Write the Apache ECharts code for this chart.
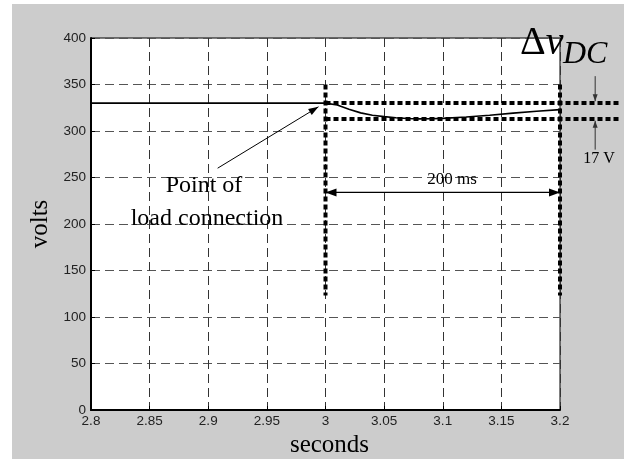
<!DOCTYPE html>
<html><head><meta charset="utf-8">
<script src="https://cdn.jsdelivr.net/npm/echarts@6/dist/echarts.min.js"></script>
<style>html,body{margin:0;padding:0;background:#fff}#c{width:624px;height:459px}</style>
</head><body><div id="c"></div>
<script>
// Measured DC-link voltage
const timeS  = [2.8, 2.9, 3.0, 3.01, 3.02, 3.03, 3.04, 3.05, 3.06, 3.07, 3.08, 3.09, 3.10, 3.12, 3.14, 3.16, 3.18, 3.2];
const voltsV = [330, 330, 330, 328, 323.5, 319.5, 317, 315.5, 314.2, 313.4, 313, 313.1, 313.6, 315, 317, 319.2, 321.3, 323];

// Axis ticks
const xMin = 2.8, xMax = 3.2, xStep = 0.05;
const yMin = 0, yMax = 400, yStep = 50;

// Annotation segments [t1, v1, t2, v2]
const dottedSegments = [
  [3.0, 330, 3.25, 330],   // upper band level
  [3.0, 313, 3.25, 313],   // lower band level (330 - 17 V)
  [3.0, 350, 3.0, 123],    // load connection instant
  [3.2, 350, 3.2, 123]     // end of 200 ms window
];
const loadArrows  = [[2.908, 260, 2.994, 326]];      // Point of load connection
const spanArrows  = [[3.0, 234, 3.2, 234]];          // 200 ms (double headed)
const deltaArrows = [[3.23, 359, 3.23, 332],         // ΔvDC upper
                     [3.23, 280, 3.23, 311]];        // ΔvDC lower

const chart = echarts.init(document.getElementById('c'), null, {renderer: 'canvas'});

function dottedSeries(rows) {
  return {type: 'custom', clip: false, silent: true, animation: false, z: 4,
    data: rows,
    renderItem: function (params, api) {
      const p0 = api.coord([api.value(0), api.value(1)]);
      const p1 = api.coord([api.value(2), api.value(3)]);
      return {type: 'line', shape: {x1: p0[0], y1: p0[1], x2: p1[0], y2: p1[1]},
              style: {stroke: '#000', lineWidth: 4, lineDash: [5, 3], fill: null}};
    }};
}
function head(tip, from, len, half, color) {
  const dx = tip[0] - from[0], dy = tip[1] - from[1];
  const d = Math.hypot(dx, dy) || 1, ux = dx / d, uy = dy / d;
  const bx = tip[0] - ux * len, by = tip[1] - uy * len;
  return {type: 'polygon', shape: {points: [[tip[0], tip[1]], [bx - uy * half, by + ux * half], [bx + uy * half, by - ux * half]]},
          style: {fill: color}};
}
function arrowSeries(rows, color, width, len, half, both) {
  return {type: 'custom', clip: false, silent: true, animation: false, z: 5,
    data: rows,
    renderItem: function (params, api) {
      const p0 = api.coord([api.value(0), api.value(1)]);
      const p1 = api.coord([api.value(2), api.value(3)]);
      const children = [
        {type: 'line', shape: {x1: p0[0], y1: p0[1], x2: p1[0], y2: p1[1]}, style: {stroke: color, lineWidth: width, fill: null}},
        head(p1, p0, len, half, color)
      ];
      if (both) children.push(head(p0, p1, len, half, color));
      return {type: 'group', children: children};
    }};
}

const serif = 'Liberation Serif';
chart.setOption({
  backgroundColor: '#cccccc',
  animation: false,
  grid: {left: 91, top: 38, right: 64, bottom: 49, show: true, backgroundColor: '#fff',
         borderColor: '#000', borderWidth: 1, containLabel: false, outerBoundsMode: 'none'},
  xAxis: {
    type: 'value', min: xMin, max: xMax, interval: xStep,
    name: 'seconds', nameLocation: 'middle', nameGap: 6,
    nameTextStyle: {fontFamily: serif, fontSize: 25, color: '#000', padding: [0, 0, 0, 8]},
    axisLine: {show: true, onZero: false, lineStyle: {color: '#000', width: 2}},
    axisTick: {show: true, inside: true, length: 4, lineStyle: {color: '#000', width: 1}},
    axisLabel: {color: '#222', fontFamily: 'Liberation Sans', fontSize: 13.5, margin: 4},
    splitLine: {show: true, lineStyle: {color: '#333', width: 1, type: [9, 5]}}
  },
  yAxis: {
    type: 'value', min: yMin, max: yMax, interval: yStep,
    name: 'volts', nameLocation: 'middle', nameGap: 35, nameRotate: 90,
    nameTextStyle: {fontFamily: serif, fontSize: 25, color: '#000'},
    axisLine: {show: true, onZero: false, lineStyle: {color: '#000', width: 2}},
    axisTick: {show: true, inside: true, length: 4, lineStyle: {color: '#000', width: 1}},
    axisLabel: {color: '#222', fontFamily: 'Liberation Sans', fontSize: 13.5, margin: 5},
    splitLine: {show: true, lineStyle: {color: '#555', width: 1, type: [9, 5]}}
  },
  graphic: [
    {type: 'rect', left: 0, top: 0, shape: {width: 624, height: 4}, style: {fill: '#fff'}, z: 100},
    {type: 'rect', left: 0, top: 0, shape: {width: 12, height: 459}, style: {fill: '#fff'}, z: 100},
    {type: 'text', x: 204, y: 186, z: 100, style: {text: 'Point of', fontFamily: serif, fontSize: 24, fill: '#000', align: 'center', verticalAlign: 'middle'}},
    {type: 'text', x: 207, y: 219, z: 100, style: {text: 'load connection', fontFamily: serif, fontSize: 24, fill: '#000', align: 'center', verticalAlign: 'middle'}},
    {type: 'text', x: 452, y: 180, z: 100, style: {text: '200 ms', fontFamily: serif, fontSize: 17, fill: '#000', align: 'center', verticalAlign: 'middle'}},
    {type: 'text', x: 599, y: 159, z: 100, style: {text: '17 V', fontFamily: serif, fontSize: 16, fill: '#000', align: 'center', verticalAlign: 'middle'}},
    {type: 'text', x: 520, y: 43, z: 100, style: {text: '{a|Δ}{b|v}', fill: '#000', verticalAlign: 'middle',
        rich: {a: {fontFamily: serif, fontSize: 40, fill: '#000'}, b: {fontFamily: serif, fontSize: 40, fontStyle: 'italic', fill: '#000'}}}},
    {type: 'text', x: 563, y: 55, z: 100, style: {text: 'DC', fontFamily: serif, fontSize: 32, fontStyle: 'italic', fill: '#000', verticalAlign: 'middle'}}
  ],
  series: [
    {type: 'line', data: timeS.map((t, i) => [t, voltsV[i]]), symbol: 'none',
     lineStyle: {color: '#000', width: 1.6}, z: 3},
    dottedSeries(dottedSegments),
    arrowSeries(loadArrows, '#000', 1, 10, 3.5, false),
    arrowSeries(spanArrows, '#000', 1.3, 11, 4, true),
    arrowSeries(deltaArrows, '#333', 1, 7, 2.5, false)
  ]
});
</script></body></html>
